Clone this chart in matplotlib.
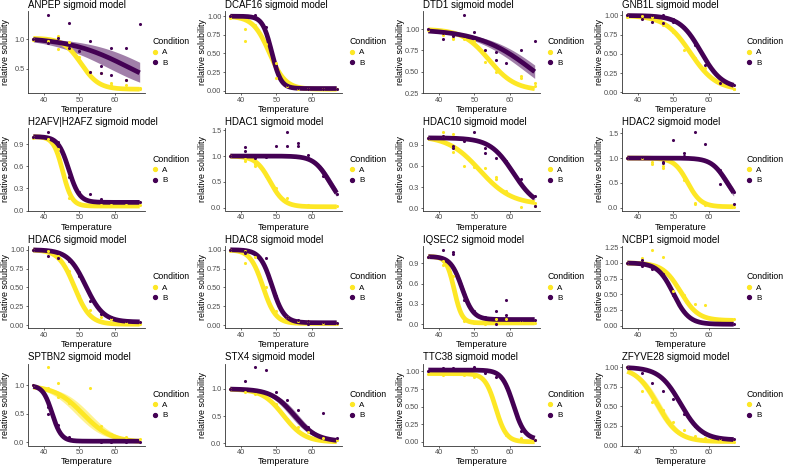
import numpy as np
import matplotlib
matplotlib.use('Agg')
import matplotlib.pyplot as plt
from matplotlib.lines import Line2D

plt.rcParams['font.family'] = ['Liberation Sans', 'DejaVu Sans']

nan = np.nan

# Temperatures measured
temps = [37, 41, 44, 47, 50, 53, 56, 59, 63, 67]

proteins = ['ANPEP', 'DCAF16', 'DTD1', 'GNB1L',
            'H2AFV|H2AFZ', 'HDAC1', 'HDAC10', 'HDAC2',
            'HDAC6', 'HDAC8', 'IQSEC2', 'NCBP1',
            'SPTBN2', 'STX4', 'TTC38', 'ZFYVE28']

# Condition A, replicate 1 and 2
a_rep1 = [
    [1.00, 0.95, 1.05, 0.95, 0.70, 0.45, 0.42, 0.25, 0.30, 0.15],
    [0.98, 0.83, 0.88, 0.63, 0.37, 0.07, 0.03, 0.02, 0.03, 0.02],
    [0.99, 0.93, 0.88, 0.88, 0.86, 0.62, 0.50, 0.44, 0.43, 0.37],
    [1.00, 0.99, 0.98, 0.87, 0.78, 0.55, 0.45, 0.32, 0.12, 0.05],
    [1.00, 0.97, 0.83, 0.17, 0.10, 0.08, 0.08, 0.08, 0.08, 0.07],
    [1.00, 0.90, 0.85, 0.62, 0.38, 0.18, 0.06, 0.05, 0.03, 0.03],
    [1.00, 1.08, 1.05, 0.60, 0.58, 0.57, 0.45, 0.25, 0.02, 0.03],
    [1.00, 1.00, 0.88, 0.85, 0.90, 0.55, 0.10, 0.05, 0.03, 0.02],
    [1.00, 0.98, 0.92, 0.72, 0.38, 0.20, 0.10, 0.08, 0.03, 0.01],
    [1.00, 0.82, 0.90, 0.50, 0.18, 0.10, 0.05, 0.05, 0.03, 0.02],
    [1.00, 0.88, 0.71, 0.05, 0.02, 0.01, 0.08, 0.08, 0.05, 0.02],
    [1.00, 1.07, 1.21, 1.10, 0.55, 0.48, 0.34, 0.32, 0.10, 0.10],
    [1.00, 1.32, 1.05, 0.70, 0.55, 0.95, 0.28, 0.15, 0.10, 0.05],
    [1.00, 0.95, 0.90, 0.85, 0.72, 0.45, 0.30, 0.20, 0.10, 0.05],
    [0.97, 0.95, 0.97, 0.95, 0.92, 0.85, 0.45, 0.10, 0.05, 0.02],
    [1.00, 0.70, 0.55, 0.45, 0.30, 0.20, 0.12, 0.10, 0.08, 0.05],
]
a_rep2 = [
    [0.99, 0.97, 0.84, 0.86, 0.65, 0.40, nan, 0.22, 0.22, 0.18],
    [1.00, 0.67, nan, nan, 0.17, nan, nan, nan, nan, nan],
    [nan, nan, 0.90, nan, nan, nan, nan, nan, 0.45, 0.33],
    [0.98, nan, nan, nan, nan, nan, nan, nan, nan, 0.04],
    [0.98, nan, nan, nan, nan, nan, nan, nan, nan, nan],
    [nan, 0.95, 0.80, nan, nan, nan, nan, nan, nan, nan],
    [nan, 1.03, 0.80, nan, nan, nan, 0.42, nan, nan, 0.08],
    [nan, nan, 0.93, 0.80, nan, nan, 0.08, nan, nan, nan],
    [nan, nan, nan, nan, nan, nan, nan, nan, nan, nan],
    [0.98, 0.98, nan, nan, nan, nan, nan, nan, nan, nan],
    [nan, 0.93, nan, nan, nan, nan, nan, nan, nan, nan],
    [nan, nan, nan, nan, nan, nan, nan, nan, nan, nan],
    [nan, 0.95, 0.80, nan, nan, nan, nan, nan, nan, nan],
    [nan, nan, nan, nan, nan, nan, nan, nan, nan, nan],
    [nan, nan, nan, nan, nan, nan, nan, nan, nan, nan],
    [nan, nan, nan, nan, nan, nan, nan, nan, nan, nan],
]

# Condition B, replicate 1 and 2
b_rep1 = [
    [1.00, 1.42, 1.02, 1.28, 0.80, 0.97, 0.55, 0.85, 0.85, 1.26],
    [1.00, 1.00, 1.02, 0.85, 0.30, 0.08, 0.04, 0.03, 0.03, 0.03],
    [1.00, 0.89, 0.92, 1.17, 0.97, 0.76, 0.64, 0.60, 0.76, 0.86],
    [1.00, 0.96, 1.01, 1.00, 0.95, 0.85, 0.62, 0.43, 0.12, 0.09],
    [1.00, 1.06, 0.93, 0.45, 0.25, 0.22, 0.16, 0.12, 0.11, 0.11],
    [1.00, 1.17, 0.97, 0.98, 1.20, 1.46, 1.25, 1.02, 0.62, 0.27],
    [1.00, 1.03, 0.88, 0.95, 1.08, 0.85, 0.72, 0.67, 0.42, 0.03],
    [1.00, 1.02, 1.00, 0.90, 1.37, 1.10, 1.52, 1.28, 0.75, 0.07],
    [1.00, 0.92, 0.89, 0.85, 0.65, 0.32, 0.15, 0.10, 0.06, 0.04],
    [1.00, 0.95, 0.94, 0.89, 0.38, 0.10, 0.07, 0.05, 0.04, 0.03],
    [1.00, 1.10, 1.07, 0.36, 0.20, 0.10, 0.20, 0.36, 0.06, 0.06],
    [1.00, 0.95, 0.90, 0.82, 0.48, 0.23, 0.08, 0.06, 0.04, 0.02],
    [1.00, 0.62, 0.22, 0.05, 0.02, 0.02, 0.01, 0.01, 0.01, 0.01],
    [1.00, 1.15, 1.40, 1.35, 0.95, 0.80, 0.62, 0.30, 0.55, 0.10],
    [1.00, 1.05, 1.05, 1.04, 1.06, 0.98, 0.92, 0.78, 0.15, 0.03],
    [1.00, 0.93, 0.80, 0.70, 0.60, 0.40, 0.25, 0.15, 0.10, 0.08],
]
b_rep2 = [
    [nan, 0.93, nan, 0.85, nan, 0.45, 0.42, 0.40, 0.30, nan],
    [nan, nan, nan, nan, 0.33, nan, nan, nan, nan, nan],
    [nan, 0.96, 0.95, nan, nan, nan, 0.73, nan, nan, nan],
    [nan, nan, 0.91, 0.90, 0.92, nan, nan, 0.35, nan, nan],
    [nan, nan, nan, nan, nan, nan, nan, nan, nan, nan],
    [nan, 1.10, nan, nan, nan, 1.20, 1.20, 0.97, nan, nan],
    [nan, 1.00, 0.85, nan, nan, 0.78, nan, nan, nan, 0.18],
    [nan, nan, nan, 0.92, nan, 1.05, nan, 0.97, 0.48, 0.32],
    [nan, nan, nan, nan, nan, nan, nan, nan, nan, nan],
    [nan, 0.97, nan, nan, nan, nan, nan, 0.01, nan, nan],
    [nan, nan, 1.04, nan, nan, nan, 0.00, 0.14, nan, nan],
    [nan, 1.05, nan, nan, nan, nan, nan, nan, nan, nan],
    [nan, 0.50, 0.30, 0.10, nan, nan, nan, nan, nan, nan],
    [nan, nan, nan, nan, nan, nan, nan, nan, nan, nan],
    [nan, nan, nan, nan, nan, nan, nan, nan, nan, nan],
    [nan, nan, nan, nan, nan, nan, nan, nan, nan, nan],
]

# Fitted sigmoid parameters (melting point, slope, plateau, top, CI shift in Tm)
tm_a = [50.5, 48.0, 54.1, 54.8, 45.3, 48.2, 51.5, 54.0, 48.6, 46.2, 44.3, 52.0, 51.0, 52.0, 56.0, 45.5]
slope_a = [2.5, 2.3, 3.7, 3.6, 1.3, 2.0, 4.5, 1.9, 2.2, 1.8, 1.1, 2.5, 4.0, 3.0, 1.5, 3.0]
plat_a = [0.15, 0.02, 0.28, 0.03, 0.06, 0.02, 0.05, 0.02, 0.01, 0.02, 0.02, 0.08, 0.0, 0.02, 0.0, 0.05]
top_a = [1.02, 1.0, 1.0, 1.0, 1.0, 1.0, 1.03, 1.0, 1.0, 1.0, 1.0, 1.0, 1.0, 1.0, 0.97, 1.0]
ci_a = [0.6, 0.5, 0.6, 0.3, 0.2, 0.3, 0.5, 0.3, 0.2, 0.3, 0.2, 0.6, 2.0, 0.6, 0.2, 1.0]

tm_b = [64.0, 48.7, 67.0, 57.8, 47.0, 65.0, 61.0, 65.2, 51.8, 48.8, 46.5, 50.0, 42.3, 55.0, 61.0, 52.0]
slope_b = [8.6, 1.3, 7.9, 3.0, 1.5, 2.2, 3.3, 2.2, 2.5, 1.7, 1.6, 2.2, 1.3, 3.2, 1.6, 3.0]
plat_b = [0.0, 0.03, 0.0, 0.05, 0.11, 0.0, 0.0, 0.0, 0.04, 0.03, 0.07, 0.02, 0.02, 0.03, 0.03, 0.07]
top_b = [1.04, 1.0, 1.0, 1.0, 1.0, 1.0, 1.0, 1.0, 1.0, 1.0, 1.0, 1.0, 1.0, 1.0, 1.02, 1.0]
ci_b = [6.0, 0.3, 2.5, 0.3, 0.2, 0.8, 0.6, 0.8, 0.2, 0.2, 0.5, 0.3, 0.3, 1.2, 0.3, 0.5]

# y ticks per panel
yticks = [
    [0.5, 1.0], [0, 0.25, 0.5, 0.75, 1.0], [0.25, 0.5, 0.75, 1.0], [0, 0.25, 0.5, 0.75, 1.0],
    [0, 0.3, 0.6, 0.9], [0, 0.5, 1.0, 1.5], [0, 0.3, 0.6, 0.9], [0, 0.5, 1.0, 1.5],
    [0, 0.25, 0.5, 0.75, 1.0], [0, 0.25, 0.5, 0.75, 1.0], [0, 0.3, 0.6, 0.9], [0, 0.25, 0.5, 0.75, 1.0, 1.25],
    [0, 0.5, 1.0], [0, 0.5, 1.0], [0, 0.25, 0.5, 0.75, 1.0], [0, 0.25, 0.5, 0.75, 1.0],
]

col_a = '#FDE725'
col_b = '#440154'


def sigmoid(t, tm, s, pl, top):
    return (top - pl) / (1 + np.exp((t - tm) / s)) + pl


def fmt_tick(v, ticks):
    # same number of decimals for all labels, like ggplot
    decs = 1
    for t in ticks:
        txt = ('%g' % t)
        if '.' in txt:
            decs = max(decs, len(txt.split('.')[1]))
    return '%.*f' % (decs, v)


fig = plt.figure(figsize=(7.85, 4.68), dpi=100)
W, H = 785.0, 468.0

col_left = [28, 225, 423, 622]
row_top = [11, 128.5, 246, 363.5]
pw, ph = 117, 82

tt = np.linspace(37, 67, 200)

for i, name in enumerate(proteins):
    r, c = divmod(i, 4)
    ax = fig.add_axes([col_left[c] / W, 1 - (row_top[r] + ph) / H, pw / W, ph / H])

    # confidence ribbons
    for tm, s, pl, top, ci, col in [(tm_a[i], slope_a[i], plat_a[i], top_a[i], ci_a[i], col_a),
                                    (tm_b[i], slope_b[i], plat_b[i], top_b[i], ci_b[i], col_b)]:
        lo = sigmoid(tt, tm - ci, s, pl, top)
        hi = sigmoid(tt, tm + ci, s, pl, top)
        ax.fill_between(tt, lo, hi, color=col, alpha=0.5, lw=0, zorder=1)

    # fitted curves
    ax.plot(tt, sigmoid(tt, tm_a[i], slope_a[i], plat_a[i], top_a[i]), color=col_a, lw=3.4,
            solid_capstyle='butt', zorder=2)
    ax.plot(tt, sigmoid(tt, tm_b[i], slope_b[i], plat_b[i], top_b[i]), color=col_b, lw=3.4,
            solid_capstyle='butt', zorder=3)

    # measured points
    for reps, col in [((a_rep1, a_rep2), col_a), ((b_rep1, b_rep2), col_b)]:
        for rep in reps:
            vals = np.array(rep[i], dtype=float)
            ok = ~np.isnan(vals)
            ax.scatter(np.array(temps)[ok], vals[ok], s=5, color=col, lw=0, zorder=4)

    ax.set_xticks([40, 50, 60])
    ax.set_yticks(yticks[i])
    ax.set_yticklabels([fmt_tick(v, yticks[i]) for v in yticks[i]])
    ax.tick_params(labelsize=5.3, colors='#4D4D4D', length=1.6, width=0.6, pad=1)
    for sp in ['top', 'right']:
        ax.spines[sp].set_visible(False)
    for sp in ['left', 'bottom']:
        ax.spines[sp].set_color('#333333')
        ax.spines[sp].set_linewidth(0.6)

    ax.set_title(f'{name} sigmoid model', loc='left', fontsize=7, pad=2.5)
    ax.set_xlabel('Temperature', fontsize=6.6, labelpad=1)
    ax.set_ylabel('relative solubility', fontsize=6.4)
    ax.yaxis.set_label_coords(-0.155, 0.5)

    handles = [Line2D([], [], marker='o', ls='none', color=col_a, markersize=2.8),
               Line2D([], [], marker='o', ls='none', color=col_b, markersize=2.8)]
    ax.legend(handles, ['A', 'B'], title='Condition', loc='center left',
              bbox_to_anchor=(1 + 7.5 / pw, 0.5), frameon=False, fontsize=5.8,
              title_fontsize=6.3, handlelength=0.6, handletextpad=0.6,
              labelspacing=0.35, borderpad=0, borderaxespad=0, alignment='left')

fig.savefig('out.png', dpi=100)
